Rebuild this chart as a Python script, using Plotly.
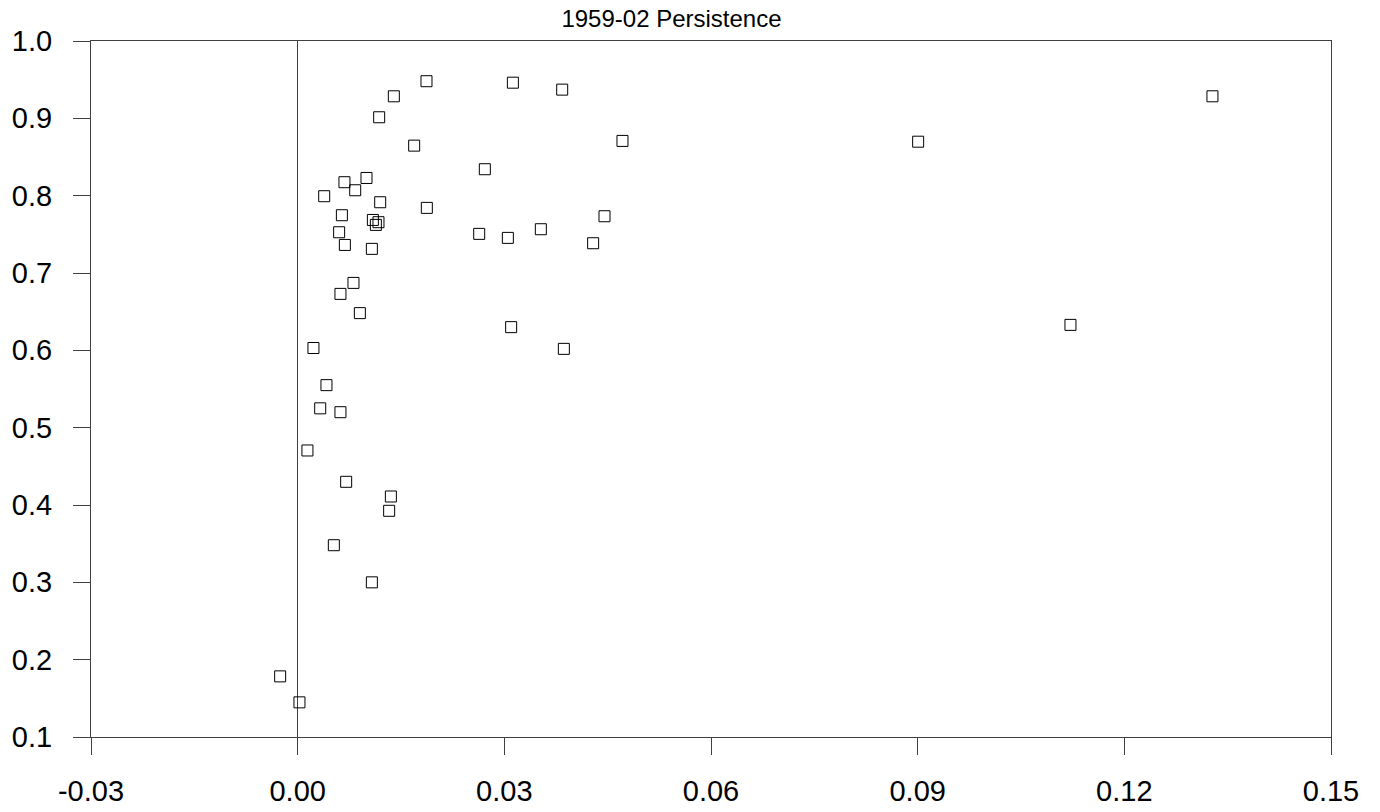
import plotly.graph_objects as go

# x values (spread) and y values (persistence)
x_vals = [
    0.00229, 0.00418, 0.00327, 0.00621, 0.00142, 0.00704, 0.01353, 0.01328,
    0.00525, 0.01077, -0.00254, 0.00026,
    0.01870, 0.01396, 0.01183, 0.01691, 0.00999, 0.00679, 0.00835, 0.00385,
    0.01198, 0.01875, 0.00642, 0.01092, 0.01173, 0.01135, 0.00602, 0.00685,
    0.01077, 0.00810, 0.00621, 0.00903,
    0.03124, 0.03840, 0.04715, 0.02717, 0.04454, 0.02635, 0.03051, 0.03530,
    0.04289, 0.03099, 0.03864,
    0.09007, 0.13279, 0.11218,
]
y_vals = [
    0.603, 0.555, 0.525, 0.520, 0.4705, 0.430, 0.411, 0.3925,
    0.348, 0.300, 0.1784, 0.1448,
    0.948, 0.9285, 0.9014, 0.8647, 0.8229, 0.8174, 0.807, 0.7993,
    0.7915, 0.7842, 0.7747, 0.7686, 0.7657, 0.7622, 0.7527, 0.7363,
    0.7312, 0.6872, 0.673, 0.6481,
    0.9461, 0.9371, 0.8708, 0.8342, 0.7734, 0.7506, 0.7454, 0.7566,
    0.7385, 0.630, 0.6019,
    0.8698, 0.9285, 0.6329,
]

x_ticks = [-0.03, 0.00, 0.03, 0.06, 0.09, 0.12, 0.15]
x_tick_labels = ["-0.03", "0.00", "0.03", "0.06", "0.09", "0.12", "0.15"]
y_ticks = [0.1, 0.2, 0.3, 0.4, 0.5, 0.6, 0.7, 0.8, 0.9, 1.0]
y_tick_labels = ["0.1", "0.2", "0.3", "0.4", "0.5", "0.6", "0.7", "0.8", "0.9", "1.0"]

title_text = "1959-02 Persistence"

fig = go.Figure()
fig.add_trace(go.Scatter(
    x=x_vals, y=y_vals, mode="markers",
    marker=dict(symbol="square-open", size=11, color="#000000",
                line=dict(width=1, color="#000000")),
    showlegend=False, hoverinfo="x+y",
))

axis_common = dict(
    showgrid=False, showline=True, linecolor="#404040", linewidth=1,
    mirror=True, ticks="outside", ticklen=17, tickwidth=1, tickcolor="#404040",
    automargin=False,
    tickfont=dict(family="Liberation Sans, Arial, sans-serif", size=29, color="#000000"),
)

fig.update_layout(
    width=1380, height=812,
    margin=dict(l=91, r=49, t=41, b=75, pad=0),
    paper_bgcolor="white", plot_bgcolor="white",
    title=dict(text=title_text, x=671.5 / 1380, xanchor="center", xref="container",
               y=(812 - 19) / 812, yanchor="middle", yref="container",
               font=dict(family="Liberation Sans, Arial, sans-serif", size=24, color="#000000")),
    xaxis=dict(range=[-0.03, 0.15], tickvals=x_ticks, ticktext=x_tick_labels,
               zeroline=True, zerolinecolor="#404040", zerolinewidth=1,
               ticklabelstandoff=11, **axis_common),
    yaxis=dict(range=[0.1, 1.0], tickvals=y_ticks, ticktext=y_tick_labels,
               zeroline=False, ticklabelstandoff=15, **axis_common),
)

fig.write_html("out.html")
